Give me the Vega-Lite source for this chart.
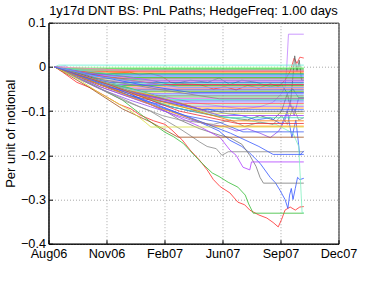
{
"$schema":"https://vega.github.io/schema/vega-lite/v6.json",
"width":290,"height":221,
"autosize":{"type":"none"},
"padding":{"left":48.5,"top":22.7,"right":35.3,"bottom":37.3},
"background":"white",
"title":{"text":"1y17d DNT BS: PnL Paths; HedgeFreq: 1.00 days","font":"Liberation Sans","fontSize":13,"fontWeight":"normal","color":"black","anchor":"middle","frame":"group","offset":-1},
"config":{"view":{"stroke":"black","strokeWidth":1},
"axis":{"labelFont":"Liberation Sans","labelFontSize":12.7,"labelColor":"black","titleFont":"Liberation Sans","titleFontSize":13,"titleFontWeight":"normal","titleColor":"black","domainColor":"black","tickColor":"black","tickSize":-4,"gridColor":"#a8a8a8","gridDash":[1,2],"gridWidth":1}},
"data":{"values":[
{"s":1,"d":11,"v":0},{"s":1,"d":25,"v":-0.012},{"s":1,"d":50,"v":-0.035},{"s":1,"d":75,"v":-0.048},{"s":1,"d":100,"v":-0.066},{"s":1,"d":125,"v":-0.085},{"s":1,"d":145,"v":-0.095},{"s":1,"d":161,"v":-0.109},{"s":1,"d":185,"v":-0.122},{"s":1,"d":205,"v":-0.13},{"s":1,"d":217,"v":-0.143},{"s":1,"d":235,"v":-0.165},{"s":1,"d":249,"v":-0.188},{"s":1,"d":265,"v":-0.21},{"s":1,"d":279,"v":-0.233},{"s":1,"d":290,"v":-0.255},{"s":1,"d":302,"v":-0.271},{"s":1,"d":319,"v":-0.285},{"s":1,"d":333,"v":-0.306},{"s":1,"d":345,"v":-0.312},{"s":1,"d":354,"v":-0.324},{"s":1,"d":370,"v":-0.335},{"s":1,"d":384,"v":-0.342},{"s":1,"d":395,"v":-0.352},{"s":1,"d":404,"v":-0.362},{"s":1,"d":410,"v":-0.345},{"s":1,"d":416,"v":-0.324},{"s":1,"d":425,"v":-0.317},{"s":1,"d":434,"v":-0.324},{"s":1,"d":442,"v":-0.317},{"s":1,"d":449,"v":-0.316},
{"s":2,"d":11,"v":0},{"s":2,"d":40,"v":-0.018},{"s":2,"d":70,"v":-0.035},{"s":2,"d":100,"v":-0.055},{"s":2,"d":130,"v":-0.075},{"s":2,"d":160,"v":-0.105},{"s":2,"d":180,"v":-0.125},{"s":2,"d":205,"v":-0.148},{"s":2,"d":220,"v":-0.158},{"s":2,"d":237,"v":-0.173},{"s":2,"d":255,"v":-0.198},{"s":2,"d":270,"v":-0.218},{"s":2,"d":288,"v":-0.24},{"s":2,"d":300,"v":-0.248},{"s":2,"d":316,"v":-0.261},{"s":2,"d":333,"v":-0.272},{"s":2,"d":346,"v":-0.29},{"s":2,"d":352,"v":-0.31},{"s":2,"d":360,"v":-0.331},{"s":2,"d":449,"v":-0.331},
{"s":3,"d":11,"v":0},{"s":3,"d":50,"v":-0.02},{"s":3,"d":91,"v":-0.04},{"s":3,"d":143,"v":-0.06},{"s":3,"d":179,"v":-0.085},{"s":3,"d":215,"v":-0.1},{"s":3,"d":266,"v":-0.125},{"s":3,"d":300,"v":-0.145},{"s":3,"d":319,"v":-0.166},{"s":3,"d":340,"v":-0.18},{"s":3,"d":354,"v":-0.195},{"s":3,"d":372,"v":-0.218},{"s":3,"d":390,"v":-0.25},{"s":3,"d":399,"v":-0.262},{"s":3,"d":407,"v":-0.279},{"s":3,"d":416,"v":-0.3},{"s":3,"d":421,"v":-0.32},{"s":3,"d":424,"v":-0.29},{"s":3,"d":427,"v":-0.275},{"s":3,"d":430,"v":-0.3},{"s":3,"d":434,"v":-0.275},{"s":3,"d":438,"v":-0.25},{"s":3,"d":442,"v":-0.255},{"s":3,"d":449,"v":-0.252},
{"s":4,"d":11,"v":0},{"s":4,"d":50,"v":-0.025},{"s":4,"d":91,"v":-0.05},{"s":4,"d":130,"v":-0.075},{"s":4,"d":179,"v":-0.1},{"s":4,"d":205,"v":-0.12},{"s":4,"d":231,"v":-0.14},{"s":4,"d":249,"v":-0.155},{"s":4,"d":266,"v":-0.17},{"s":4,"d":279,"v":-0.18},{"s":4,"d":295,"v":-0.185},{"s":4,"d":305,"v":-0.2},{"s":4,"d":316,"v":-0.192},{"s":4,"d":449,"v":-0.192},
{"s":5,"d":11,"v":0},{"s":5,"d":50,"v":-0.02},{"s":5,"d":91,"v":-0.045},{"s":5,"d":135,"v":-0.065},{"s":5,"d":179,"v":-0.085},{"s":5,"d":205,"v":-0.1},{"s":5,"d":231,"v":-0.12},{"s":5,"d":266,"v":-0.14},{"s":5,"d":302,"v":-0.155},{"s":5,"d":319,"v":-0.16},{"s":5,"d":340,"v":-0.175},{"s":5,"d":354,"v":-0.2},{"s":5,"d":365,"v":-0.225},{"s":5,"d":372,"v":-0.25},{"s":5,"d":378,"v":-0.263},{"s":5,"d":449,"v":-0.263},
{"s":6,"d":11,"v":0},{"s":6,"d":50,"v":-0.022},{"s":6,"d":91,"v":-0.045},{"s":6,"d":135,"v":-0.065},{"s":6,"d":179,"v":-0.085},{"s":6,"d":205,"v":-0.1},{"s":6,"d":231,"v":-0.115},{"s":6,"d":266,"v":-0.135},{"s":6,"d":302,"v":-0.16},{"s":6,"d":319,"v":-0.188},{"s":6,"d":330,"v":-0.2},{"s":6,"d":342,"v":-0.227},{"s":6,"d":354,"v":-0.233},{"s":6,"d":357,"v":-0.215},{"s":6,"d":449,"v":-0.215},
{"s":7,"d":11,"v":0},{"s":7,"d":30,"v":0.002},{"s":7,"d":50,"v":-0.015},{"s":7,"d":91,"v":-0.035},{"s":7,"d":143,"v":-0.05},{"s":7,"d":179,"v":-0.06},{"s":7,"d":215,"v":-0.07},{"s":7,"d":250,"v":-0.08},{"s":7,"d":280,"v":-0.085},{"s":7,"d":310,"v":-0.09},{"s":7,"d":340,"v":-0.095},{"s":7,"d":372,"v":-0.09},{"s":7,"d":395,"v":-0.08},{"s":7,"d":410,"v":-0.06},{"s":7,"d":416,"v":-0.045},{"s":7,"d":419,"v":0},{"s":7,"d":422,"v":0.074},{"s":7,"d":449,"v":0.074},
{"s":8,"d":11,"v":0},{"s":8,"d":40,"v":-0.008},{"s":8,"d":70,"v":-0.012},{"s":8,"d":100,"v":-0.015},{"s":8,"d":143,"v":-0.012},{"s":8,"d":160,"v":-0.018},{"s":8,"d":179,"v":-0.015},{"s":8,"d":200,"v":-0.022},{"s":8,"d":215,"v":-0.035},{"s":8,"d":240,"v":-0.038},{"s":8,"d":266,"v":-0.04},{"s":8,"d":290,"v":-0.05},{"s":8,"d":310,"v":-0.045},{"s":8,"d":330,"v":-0.052},{"s":8,"d":350,"v":-0.042},{"s":8,"d":370,"v":-0.048},{"s":8,"d":390,"v":-0.038},{"s":8,"d":405,"v":-0.045},{"s":8,"d":416,"v":-0.03},{"s":8,"d":425,"v":-0.01},{"s":8,"d":432,"v":0.02},{"s":8,"d":437,"v":0.008},{"s":8,"d":442,"v":0.022},{"s":8,"d":449,"v":0.02},
{"s":9,"d":11,"v":0},{"s":9,"d":50,"v":-0.02},{"s":9,"d":91,"v":-0.04},{"s":9,"d":143,"v":-0.065},{"s":9,"d":179,"v":-0.075},{"s":9,"d":215,"v":-0.09},{"s":9,"d":250,"v":-0.1},{"s":9,"d":290,"v":-0.11},{"s":9,"d":320,"v":-0.115},{"s":9,"d":350,"v":-0.12},{"s":9,"d":372,"v":-0.11},{"s":9,"d":395,"v":-0.12},{"s":9,"d":410,"v":-0.1},{"s":9,"d":420,"v":-0.06},{"s":9,"d":425,"v":-0.09},{"s":9,"d":430,"v":-0.02},{"s":9,"d":433,"v":0.025},{"s":9,"d":437,"v":-0.01},{"s":9,"d":441,"v":0.015},{"s":9,"d":445,"v":-0.03},{"s":9,"d":449,"v":-0.03},
{"s":10,"d":11,"v":0},{"s":10,"d":50,"v":-0.01},{"s":10,"d":91,"v":-0.02},{"s":10,"d":143,"v":-0.028},{"s":10,"d":179,"v":-0.03},{"s":10,"d":215,"v":-0.04},{"s":10,"d":250,"v":-0.03},{"s":10,"d":280,"v":-0.035},{"s":10,"d":300,"v":-0.025},{"s":10,"d":319,"v":-0.04},{"s":10,"d":340,"v":-0.03},{"s":10,"d":365,"v":-0.035},{"s":10,"d":390,"v":-0.045},{"s":10,"d":410,"v":-0.04},{"s":10,"d":420,"v":-0.06},{"s":10,"d":430,"v":-0.05},{"s":10,"d":440,"v":-0.07},{"s":10,"d":449,"v":-0.07},
{"s":11,"d":11,"v":0},{"s":11,"d":50,"v":-0.02},{"s":11,"d":91,"v":-0.04},{"s":11,"d":143,"v":-0.065},{"s":11,"d":179,"v":-0.08},{"s":11,"d":215,"v":-0.09},{"s":11,"d":250,"v":-0.1},{"s":11,"d":280,"v":-0.095},{"s":11,"d":310,"v":-0.105},{"s":11,"d":340,"v":-0.11},{"s":11,"d":365,"v":-0.12},{"s":11,"d":390,"v":-0.115},{"s":11,"d":410,"v":-0.13},{"s":11,"d":420,"v":-0.1},{"s":11,"d":428,"v":-0.16},{"s":11,"d":435,"v":-0.12},{"s":11,"d":442,"v":-0.2},{"s":11,"d":449,"v":-0.19},
{"s":12,"d":11,"v":0},{"s":12,"d":50,"v":-0.025},{"s":12,"d":91,"v":-0.05},{"s":12,"d":143,"v":-0.075},{"s":12,"d":179,"v":-0.09},{"s":12,"d":215,"v":-0.105},{"s":12,"d":250,"v":-0.12},{"s":12,"d":280,"v":-0.13},{"s":12,"d":310,"v":-0.135},{"s":12,"d":330,"v":-0.145},{"s":12,"d":350,"v":-0.14},{"s":12,"d":372,"v":-0.15},{"s":12,"d":390,"v":-0.16},{"s":12,"d":405,"v":-0.145},{"s":12,"d":416,"v":-0.12},{"s":12,"d":425,"v":-0.08},{"s":12,"d":432,"v":-0.11},{"s":12,"d":440,"v":-0.07},{"s":12,"d":449,"v":-0.07},
{"s":13,"d":11,"v":0},{"s":13,"d":91,"v":-0.04},{"s":13,"d":179,"v":-0.07},{"s":13,"d":266,"v":-0.1},{"s":13,"d":340,"v":-0.12},{"s":13,"d":400,"v":-0.13},{"s":13,"d":430,"v":-0.15},{"s":13,"d":440,"v":-0.18},{"s":13,"d":446,"v":-0.33},{"s":13,"d":449,"v":-0.33},
{"s":14,"d":11,"v":0},{"s":14,"d":60,"v":-0.03},{"s":14,"d":110,"v":-0.06},{"s":14,"d":160,"v":-0.09},{"s":14,"d":200,"v":-0.11},{"s":14,"d":231,"v":-0.12},{"s":14,"d":260,"v":-0.125},{"s":14,"d":290,"v":-0.13},{"s":14,"d":320,"v":-0.12},{"s":14,"d":345,"v":-0.135},{"s":14,"d":372,"v":-0.125},{"s":14,"d":395,"v":-0.13},{"s":14,"d":410,"v":-0.11},{"s":14,"d":420,"v":-0.13},{"s":14,"d":430,"v":-0.09},{"s":14,"d":440,"v":-0.12},{"s":14,"d":449,"v":-0.115},
{"s":15,"d":11,"v":0},{"s":15,"d":18,"v":0.004},{"s":15,"d":449,"v":0.004},
{"s":16,"d":11,"v":0},{"s":16,"d":22,"v":-0.001},{"s":16,"d":449,"v":-0.001},
{"s":17,"d":11,"v":0},{"s":17,"d":20,"v":-0.001},{"s":17,"d":30,"v":-0.004},{"s":17,"d":449,"v":-0.004},
{"s":18,"d":11,"v":0},{"s":18,"d":24,"v":-0.003},{"s":18,"d":35,"v":-0.007},{"s":18,"d":449,"v":-0.007},
{"s":19,"d":11,"v":0},{"s":19,"d":27,"v":-0.006},{"s":19,"d":42,"v":-0.01},{"s":19,"d":449,"v":-0.01},
{"s":20,"d":11,"v":0},{"s":20,"d":30,"v":-0.005},{"s":20,"d":48,"v":-0.012},{"s":20,"d":449,"v":-0.012},
{"s":21,"d":11,"v":0},{"s":21,"d":33,"v":-0.008},{"s":21,"d":55,"v":-0.015},{"s":21,"d":449,"v":-0.015},
{"s":22,"d":11,"v":0},{"s":22,"d":35,"v":-0.007},{"s":22,"d":60,"v":-0.017},{"s":22,"d":449,"v":-0.017},
{"s":23,"d":11,"v":0},{"s":23,"d":38,"v":-0.009},{"s":23,"d":66,"v":-0.02},{"s":23,"d":449,"v":-0.02},
{"s":24,"d":11,"v":0},{"s":24,"d":40,"v":-0.012},{"s":24,"d":72,"v":-0.022},{"s":24,"d":449,"v":-0.022},
{"s":25,"d":11,"v":0},{"s":25,"d":35,"v":-0.008},{"s":25,"d":60,"v":-0.02},{"s":25,"d":78,"v":-0.025},{"s":25,"d":449,"v":-0.025},
{"s":26,"d":11,"v":0},{"s":26,"d":40,"v":-0.013},{"s":26,"d":65,"v":-0.018},{"s":26,"d":84,"v":-0.027},{"s":26,"d":449,"v":-0.027},
{"s":27,"d":11,"v":0},{"s":27,"d":42,"v":-0.01},{"s":27,"d":70,"v":-0.024},{"s":27,"d":90,"v":-0.03},{"s":27,"d":449,"v":-0.03},
{"s":28,"d":11,"v":0},{"s":28,"d":40,"v":-0.014},{"s":28,"d":70,"v":-0.02},{"s":28,"d":96,"v":-0.032},{"s":28,"d":449,"v":-0.032},
{"s":29,"d":11,"v":0},{"s":29,"d":45,"v":-0.011},{"s":29,"d":75,"v":-0.026},{"s":29,"d":102,"v":-0.035},{"s":29,"d":449,"v":-0.035},
{"s":30,"d":11,"v":0},{"s":30,"d":45,"v":-0.016},{"s":30,"d":80,"v":-0.026},{"s":30,"d":108,"v":-0.037},{"s":30,"d":449,"v":-0.037},
{"s":31,"d":11,"v":0},{"s":31,"d":45,"v":-0.012},{"s":31,"d":85,"v":-0.031},{"s":31,"d":115,"v":-0.04},{"s":31,"d":449,"v":-0.04},
{"s":32,"d":11,"v":0},{"s":32,"d":50,"v":-0.018},{"s":32,"d":90,"v":-0.028},{"s":32,"d":122,"v":-0.042},{"s":32,"d":449,"v":-0.042},
{"s":33,"d":11,"v":0},{"s":33,"d":50,"v":-0.014},{"s":33,"d":95,"v":-0.036},{"s":33,"d":128,"v":-0.045},{"s":33,"d":449,"v":-0.045},
{"s":34,"d":11,"v":0},{"s":34,"d":50,"v":-0.02},{"s":34,"d":100,"v":-0.032},{"s":34,"d":135,"v":-0.047},{"s":34,"d":449,"v":-0.047},
{"s":35,"d":11,"v":0},{"s":35,"d":55,"v":-0.016},{"s":35,"d":105,"v":-0.04},{"s":35,"d":142,"v":-0.05},{"s":35,"d":449,"v":-0.05},
{"s":36,"d":11,"v":0},{"s":36,"d":55,"v":-0.022},{"s":36,"d":110,"v":-0.036},{"s":36,"d":150,"v":-0.052},{"s":36,"d":449,"v":-0.052},
{"s":37,"d":11,"v":0},{"s":37,"d":60,"v":-0.018},{"s":37,"d":115,"v":-0.044},{"s":37,"d":158,"v":-0.055},{"s":37,"d":449,"v":-0.055},
{"s":38,"d":11,"v":0},{"s":38,"d":60,"v":-0.025},{"s":38,"d":120,"v":-0.04},{"s":38,"d":165,"v":-0.057},{"s":38,"d":449,"v":-0.057},
{"s":39,"d":11,"v":0},{"s":39,"d":60,"v":-0.02},{"s":39,"d":125,"v":-0.048},{"s":39,"d":172,"v":-0.06},{"s":39,"d":449,"v":-0.06},
{"s":40,"d":11,"v":0},{"s":40,"d":65,"v":-0.027},{"s":40,"d":130,"v":-0.043},{"s":40,"d":180,"v":-0.062},{"s":40,"d":449,"v":-0.062},
{"s":41,"d":11,"v":0},{"s":41,"d":65,"v":-0.022},{"s":41,"d":135,"v":-0.052},{"s":41,"d":188,"v":-0.065},{"s":41,"d":449,"v":-0.065},
{"s":42,"d":11,"v":0},{"s":42,"d":70,"v":-0.03},{"s":42,"d":140,"v":-0.047},{"s":42,"d":196,"v":-0.068},{"s":42,"d":449,"v":-0.068},
{"s":43,"d":11,"v":0},{"s":43,"d":70,"v":-0.024},{"s":43,"d":145,"v":-0.056},{"s":43,"d":204,"v":-0.071},{"s":43,"d":449,"v":-0.071},
{"s":44,"d":11,"v":0},{"s":44,"d":75,"v":-0.032},{"s":44,"d":150,"v":-0.052},{"s":44,"d":212,"v":-0.074},{"s":44,"d":449,"v":-0.074},
{"s":45,"d":11,"v":0},{"s":45,"d":75,"v":-0.026},{"s":45,"d":155,"v":-0.061},{"s":45,"d":220,"v":-0.077},{"s":45,"d":449,"v":-0.077},
{"s":46,"d":11,"v":0},{"s":46,"d":80,"v":-0.034},{"s":46,"d":160,"v":-0.056},{"s":46,"d":228,"v":-0.08},{"s":46,"d":449,"v":-0.08},
{"s":47,"d":11,"v":0},{"s":47,"d":80,"v":-0.028},{"s":47,"d":165,"v":-0.066},{"s":47,"d":236,"v":-0.083},{"s":47,"d":449,"v":-0.083},
{"s":48,"d":11,"v":0},{"s":48,"d":85,"v":-0.036},{"s":48,"d":170,"v":-0.06},{"s":48,"d":244,"v":-0.086},{"s":48,"d":449,"v":-0.086},
{"s":49,"d":11,"v":0},{"s":49,"d":85,"v":-0.03},{"s":49,"d":175,"v":-0.071},{"s":49,"d":252,"v":-0.089},{"s":49,"d":449,"v":-0.089},
{"s":50,"d":11,"v":0},{"s":50,"d":90,"v":-0.04},{"s":50,"d":180,"v":-0.064},{"s":50,"d":262,"v":-0.093},{"s":50,"d":449,"v":-0.093},
{"s":51,"d":11,"v":0},{"s":51,"d":95,"v":-0.034},{"s":51,"d":190,"v":-0.076},{"s":51,"d":272,"v":-0.097},{"s":51,"d":449,"v":-0.097},
{"s":52,"d":11,"v":0},{"s":52,"d":95,"v":-0.043},{"s":52,"d":195,"v":-0.07},{"s":52,"d":282,"v":-0.101},{"s":52,"d":449,"v":-0.101},
{"s":53,"d":11,"v":0},{"s":53,"d":100,"v":-0.036},{"s":53,"d":200,"v":-0.082},{"s":53,"d":292,"v":-0.105},{"s":53,"d":449,"v":-0.105},
{"s":54,"d":11,"v":0},{"s":54,"d":105,"v":-0.046},{"s":54,"d":210,"v":-0.076},{"s":54,"d":302,"v":-0.11},{"s":54,"d":449,"v":-0.11},
{"s":55,"d":11,"v":0},{"s":55,"d":105,"v":-0.04},{"s":55,"d":215,"v":-0.09},{"s":55,"d":312,"v":-0.115},{"s":55,"d":449,"v":-0.115},
{"s":56,"d":11,"v":0},{"s":56,"d":110,"v":-0.05},{"s":56,"d":220,"v":-0.085},{"s":56,"d":322,"v":-0.122},{"s":56,"d":449,"v":-0.122},
{"s":57,"d":11,"v":0},{"s":57,"d":115,"v":-0.044},{"s":57,"d":230,"v":-0.1},{"s":57,"d":332,"v":-0.128},{"s":57,"d":449,"v":-0.128},
{"s":58,"d":11,"v":0},{"s":58,"d":70,"v":-0.045},{"s":58,"d":130,"v":-0.095},{"s":58,"d":180,"v":-0.125},{"s":58,"d":228,"v":-0.159},{"s":58,"d":449,"v":-0.159},
{"s":59,"d":11,"v":0},{"s":59,"d":55,"v":-0.03},{"s":59,"d":91,"v":-0.06},{"s":59,"d":143,"v":-0.098},{"s":59,"d":170,"v":-0.125},{"s":59,"d":180,"v":-0.136},{"s":59,"d":449,"v":-0.136},
{"s":60,"d":11,"v":0},{"s":60,"d":120,"v":-0.055},{"s":60,"d":240,"v":-0.11},{"s":60,"d":300,"v":-0.125},{"s":60,"d":342,"v":-0.147},{"s":60,"d":449,"v":-0.147},
{"s":61,"d":11,"v":0},{"s":61,"d":100,"v":-0.045},{"s":61,"d":200,"v":-0.095},{"s":61,"d":290,"v":-0.134},{"s":61,"d":449,"v":-0.134},
{"s":62,"d":11,"v":0},{"s":62,"d":60,"v":-0.012},{"s":62,"d":110,"v":-0.018},{"s":62,"d":150,"v":-0.024},{"s":62,"d":449,"v":-0.024},
{"s":63,"d":11,"v":0},{"s":63,"d":70,"v":-0.016},{"s":63,"d":140,"v":-0.03},{"s":63,"d":200,"v":-0.04},{"s":63,"d":449,"v":-0.04},
{"s":64,"d":11,"v":0},{"s":64,"d":60,"v":-0.008},{"s":64,"d":120,"v":-0.018},{"s":64,"d":449,"v":-0.018},
{"s":65,"d":11,"v":0},{"s":65,"d":90,"v":-0.022},{"s":65,"d":170,"v":-0.042},{"s":65,"d":250,"v":-0.058},{"s":65,"d":449,"v":-0.058},
{"s":66,"d":11,"v":0},{"s":66,"d":70,"v":-0.014},{"s":66,"d":130,"v":-0.022},{"s":66,"d":180,"v":-0.03},{"s":66,"d":449,"v":-0.03},
{"s":67,"d":11,"v":0},{"s":67,"d":100,"v":-0.03},{"s":67,"d":200,"v":-0.052},{"s":67,"d":300,"v":-0.072},{"s":67,"d":449,"v":-0.072},
{"s":68,"d":11,"v":0},{"s":68,"d":80,"v":-0.02},{"s":68,"d":160,"v":-0.034},{"s":68,"d":230,"v":-0.046},{"s":68,"d":449,"v":-0.046},
{"s":69,"d":11,"v":0},{"s":69,"d":80,"v":-0.004},{"s":69,"d":160,"v":-0.009},{"s":69,"d":449,"v":-0.009},
{"s":70,"d":11,"v":0},{"s":70,"d":120,"v":-0.05},{"s":70,"d":240,"v":-0.11},{"s":70,"d":320,"v":-0.15},{"s":70,"d":370,"v":-0.18},{"s":70,"d":395,"v":-0.198},{"s":70,"d":449,"v":-0.198}
]},
"mark":{"type":"line","strokeWidth":0.8},
"encoding":{
"x":{"field":"d","type":"quantitative","scale":{"domain":[0,510],"nice":false,"zero":false},
"axis":{"title":null,"values":[0,102,204,306,408,510],"labelExpr":"['Aug06','Nov06','Feb07','Jun07','Sep07','Dec07'][round(datum.value/102)]","grid":true,"labelPadding":8,"labelFlush":false}},
"y":{"field":"v","type":"quantitative","scale":{"domain":[-0.4,0.1],"nice":false,"zero":false},
"axis":{"title":"Per unit of notional","values":[-0.4,-0.3,-0.2,-0.1,0,0.1],"format":".1~f","grid":true,"labelPadding":7,"titlePadding":3}},
"color":{"field":"s","type":"nominal","legend":null,"scale":{
"domain":[1,2,3,4,5,6,7,8,9,10,11,12,13,14,15,16,17,18,19,20,21,22,23,24,25,26,27,28,29,30,31,32,33,34,35,36,37,38,39,40,41,42,43,44,45,46,47,48,49,50,51,52,53,54,55,56,57,58,59,60,61,62,63,64,65,66,67,68,69,70],
"range":["#ff2a2a","#33bb33","#3355ff","#888888","#777777","#b040ff","#c080ff","#ff4040","#666666","#30c090","#4060ff","#9050ee","#80f0c0","#909090","#60f0d0","#90ff90","#30d030","#208020","#ff3030","#ff8000","#40c040","#3050ff","#a050ff","#60b0ff","#ff4040","#808080","#90ee90","#d040d0","#2040e0","#40d0b0","#9040f0","#30b030","#ff9020","#c090ff","#f03030","#4070ff","#208820","#d8e030","#a060ff","#70c0ff","#888888","#40c840","#e050e0","#40e0c0","#3355ee","#b890ff","#ff5050","#a0f0a0","#9050ff","#ff8c00","#2050ff","#7a7a7a","#d0d040","#a040f0","#40d8b8","#ff7700","#ee3030","#a05020","#d8e040","#4060f0","#ff9900","#38c838","#ff3838","#50e0c0","#3060ff","#a858ff","#858585","#60a8ff","#ff80c0","#3a5aff"]}}
}
}
